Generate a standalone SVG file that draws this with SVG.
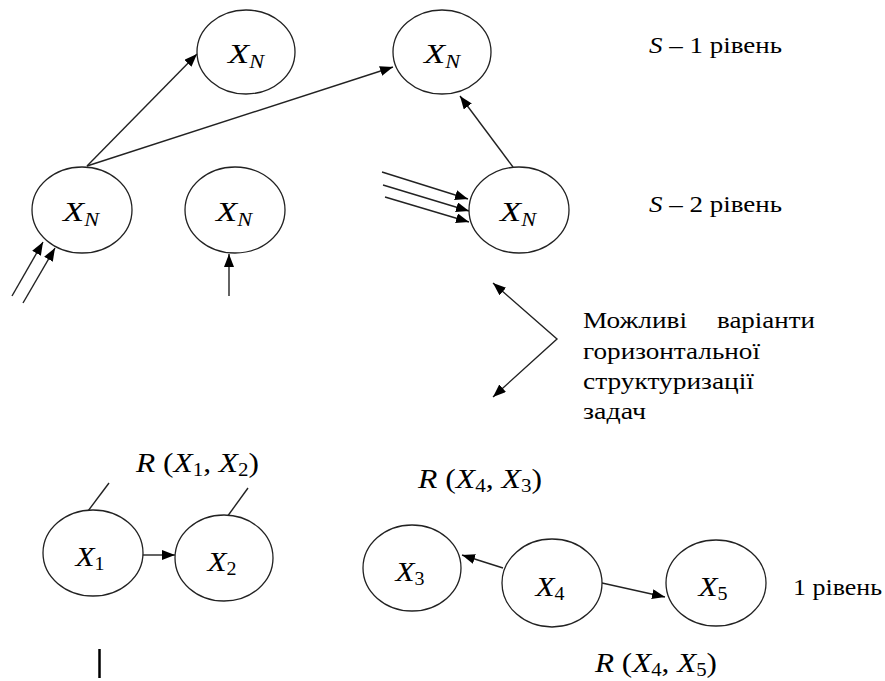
<svg xmlns="http://www.w3.org/2000/svg" width="885" height="681" viewBox="0 0 885 681">
<style>
.node{fill:#fff;stroke:#222;stroke-width:1.3}
.ln{fill:none;stroke:#222;stroke-width:1.4}
.arr{fill:none;stroke:#222;stroke-width:1.4;marker-end:url(#ah)}
.t{font-family:"Liberation Serif","Times New Roman",serif;fill:#000}
.nl{font-size:28px}
.lbl{font-size:27px}
.it{font-style:italic}
.cap{font-size:23px}
.sub{font-size:18px}
</style>
<defs>
<marker id="ah" markerUnits="userSpaceOnUse" markerWidth="14" markerHeight="12" refX="13" refY="5" orient="auto">
<path d="M0,0 L13,5 L0,10 Z" fill="#000"/>
</marker>
<marker id="ahs" markerUnits="userSpaceOnUse" markerWidth="14" markerHeight="12" refX="13" refY="5" orient="auto-start-reverse">
<path d="M0,0 L13,5 L0,10 Z" fill="#000"/>
</marker>
</defs>

<g id="connectors">
<line class="arr" x1="87" y1="166" x2="197" y2="54"/>
<line class="arr" x1="87" y1="166" x2="393" y2="67"/>
<line class="arr" x1="513" y1="167" x2="460" y2="96"/>
<line class="arr" x1="382" y1="172" x2="468" y2="199"/>
<line class="arr" x1="383" y1="185" x2="469" y2="211"/>
<line class="arr" x1="385" y1="197" x2="469" y2="222"/>
<line class="arr" x1="12" y1="296" x2="43" y2="242"/>
<line class="arr" x1="23" y1="303" x2="55" y2="248"/>
<line class="arr" x1="229" y1="296" x2="229" y2="254"/>
<polyline fill="none" stroke="#222" stroke-width="1.4" points="493,283 557,339 493,397" marker-start="url(#ahs)" marker-end="url(#ah)"/>
<line class="arr" x1="143" y1="555" x2="175" y2="555"/>
<line class="arr" x1="503" y1="568" x2="462" y2="555"/>
<line class="arr" x1="602" y1="583" x2="665" y2="597"/>
<line class="ln" x1="88" y1="511" x2="109" y2="483"/>
<line class="ln" x1="227" y1="517" x2="248" y2="488"/>
</g>

<g id="nodeA">
<ellipse class="node" cx="246" cy="52" rx="49" ry="42"/>
<text class="t nl" x="246" y="63" text-anchor="middle" textLength="36" lengthAdjust="spacingAndGlyphs"><tspan class="it">X</tspan><tspan class="sub it" dy="5">N</tspan></text>
</g>
<g id="nodeB">
<ellipse class="node" cx="442" cy="52" rx="49" ry="42"/>
<text class="t nl" x="442" y="63" text-anchor="middle" textLength="36" lengthAdjust="spacingAndGlyphs"><tspan class="it">X</tspan><tspan class="sub it" dy="5">N</tspan></text>
</g>
<g id="nodeC">
<ellipse class="node" cx="82" cy="210" rx="50" ry="43"/>
<text class="t nl" x="81" y="221" text-anchor="middle" textLength="36" lengthAdjust="spacingAndGlyphs"><tspan class="it">X</tspan><tspan class="sub it" dy="5">N</tspan></text>
</g>
<g id="nodeD">
<ellipse class="node" cx="235" cy="210" rx="50" ry="43"/>
<text class="t nl" x="234" y="221" text-anchor="middle" textLength="36" lengthAdjust="spacingAndGlyphs"><tspan class="it">X</tspan><tspan class="sub it" dy="5">N</tspan></text>
</g>
<g id="nodeE">
<ellipse class="node" cx="519" cy="210" rx="50" ry="43"/>
<text class="t nl" x="518" y="221" text-anchor="middle" textLength="36" lengthAdjust="spacingAndGlyphs"><tspan class="it">X</tspan><tspan class="sub it" dy="5">N</tspan></text>
</g>

<g id="nodeX1">
<ellipse class="node" cx="93" cy="553" rx="50" ry="43"/>
<text class="t nl" x="90" y="566" text-anchor="middle" textLength="29" lengthAdjust="spacingAndGlyphs"><tspan class="it">X</tspan><tspan class="sub" dy="4">1</tspan></text>
</g>
<g id="nodeX2">
<ellipse class="node" cx="224" cy="558" rx="49" ry="43"/>
<text class="t nl" x="222" y="571" text-anchor="middle" textLength="29" lengthAdjust="spacingAndGlyphs"><tspan class="it">X</tspan><tspan class="sub" dy="4">2</tspan></text>
</g>
<g id="nodeX3">
<ellipse class="node" cx="412" cy="568" rx="49" ry="43"/>
<text class="t nl" x="410" y="581" text-anchor="middle" textLength="29" lengthAdjust="spacingAndGlyphs"><tspan class="it">X</tspan><tspan class="sub" dy="4">3</tspan></text>
</g>
<g id="nodeX4">
<ellipse class="node" cx="552" cy="583" rx="50" ry="44"/>
<text class="t nl" x="550" y="596" text-anchor="middle" textLength="29" lengthAdjust="spacingAndGlyphs"><tspan class="it">X</tspan><tspan class="sub" dy="4">4</tspan></text>
</g>
<g id="nodeX5">
<ellipse class="node" cx="716" cy="583" rx="50" ry="43"/>
<text class="t nl" x="713" y="596" text-anchor="middle" textLength="29" lengthAdjust="spacingAndGlyphs"><tspan class="it">X</tspan><tspan class="sub" dy="4">5</tspan></text>
</g>

<g id="labels">
<text class="t cap" x="649" y="53" textLength="133" lengthAdjust="spacingAndGlyphs"><tspan class="it">S</tspan> – 1 рівень</text>
<text class="t cap" x="649" y="212" textLength="133" lengthAdjust="spacingAndGlyphs"><tspan class="it">S</tspan> – 2 рівень</text>
<text class="t cap" x="583" y="328" textLength="104" lengthAdjust="spacingAndGlyphs">Можливі</text>
<text class="t cap" x="717" y="328" textLength="98" lengthAdjust="spacingAndGlyphs">варіанти</text>
<text class="t cap" x="583" y="359" textLength="177" lengthAdjust="spacingAndGlyphs">горизонтальної</text>
<text class="t cap" x="583" y="389" textLength="171" lengthAdjust="spacingAndGlyphs">структуризації</text>
<text class="t cap" x="583" y="419" textLength="63" lengthAdjust="spacingAndGlyphs">задач</text>
<text class="t lbl" x="136" y="472" textLength="123" lengthAdjust="spacingAndGlyphs"><tspan class="it">R</tspan> (<tspan class="it">X</tspan><tspan class="sub" dy="4">1</tspan><tspan dy="-4">, </tspan><tspan class="it">X</tspan><tspan class="sub" dy="4">2</tspan><tspan dy="-4">)</tspan></text>
<text class="t lbl" x="418" y="488" textLength="124" lengthAdjust="spacingAndGlyphs"><tspan class="it">R</tspan> (<tspan class="it">X</tspan><tspan class="sub" dy="4">4</tspan><tspan dy="-4">, </tspan><tspan class="it">X</tspan><tspan class="sub" dy="4">3</tspan><tspan dy="-4">)</tspan></text>
<text class="t lbl" x="595" y="672" textLength="122" lengthAdjust="spacingAndGlyphs"><tspan class="it">R</tspan> (<tspan class="it">X</tspan><tspan class="sub" dy="4">4</tspan><tspan dy="-4">, </tspan><tspan class="it">X</tspan><tspan class="sub" dy="4">5</tspan><tspan dy="-4">)</tspan></text>
<text class="t cap" x="793" y="595" textLength="89" lengthAdjust="spacingAndGlyphs">1 рівень</text>
<line x1="99.5" y1="649" x2="99.5" y2="678" stroke="#000" stroke-width="2.5"/>
</g>
</svg>
